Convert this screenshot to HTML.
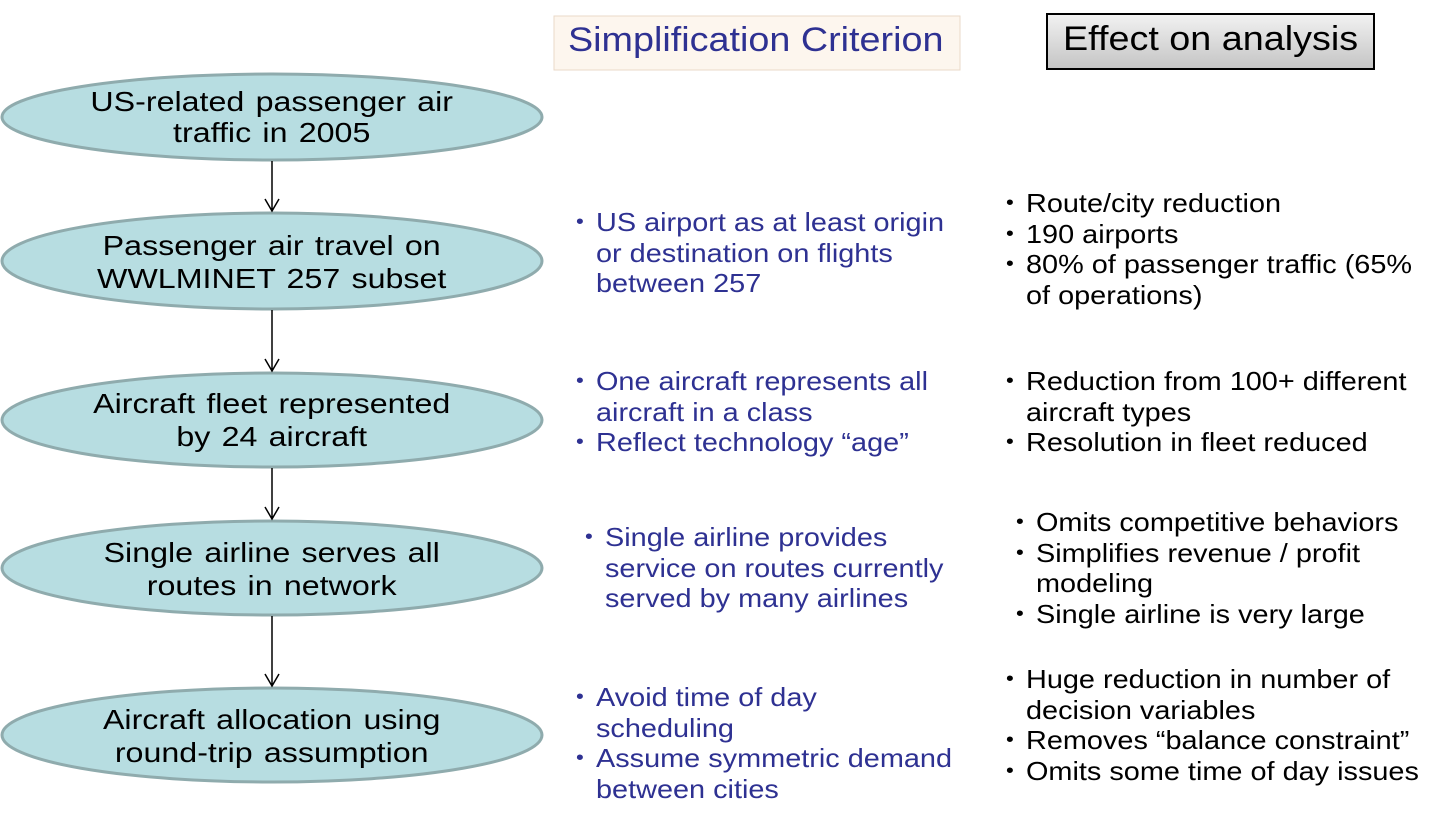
<!DOCTYPE html>
<html><head><meta charset="utf-8"><style>
body{margin:0;width:1450px;height:823px;background:#fff;position:relative;overflow:hidden;font-family:"Liberation Sans",Arial,sans-serif}
.t{position:absolute;font-size:26px;line-height:30.5px;white-space:nowrap;transform:scaleX(1.11);transform-origin:0 0}
.c{transform:scaleX(1.15);transform-origin:272px 0;word-spacing:2px}
.b{color:#2e3192}
.k{color:#000}
.li{position:relative;padding-left:18px}
.li:before{content:"•";position:absolute;left:0;font-size:20px;}
</style></head><body>
<svg width="1450" height="823" style="position:absolute;left:0;top:0">
<defs><linearGradient id="g" x1="0" y1="0" x2="0" y2="1"><stop offset="0" stop-color="#f2f2f2"/><stop offset="1" stop-color="#c4c4c4"/></linearGradient></defs>
<rect x="554" y="16" width="406" height="54" fill="#fdf6ee" stroke="#ead9c8"/>
<rect x="1047" y="14" width="327" height="55" fill="url(#g)" stroke="#000" stroke-width="2"/>
<g fill="#b7dde1" stroke="#8fabad" stroke-width="3">
<ellipse cx="272" cy="117" rx="270" ry="43"/>
<ellipse cx="272" cy="261" rx="270" ry="48"/>
<ellipse cx="272" cy="420" rx="270" ry="47"/>
<ellipse cx="272" cy="568" rx="270" ry="47"/>
<ellipse cx="272" cy="735" rx="270" ry="47"/>
</g>
<g stroke="#000" stroke-width="1.5" fill="none">
<path d="M272,161 V211 M265,199 L272,211 L279,199"/>
<path d="M272,310 V371 M265,359 L272,371 L279,359"/>
<path d="M272,468 V519 M265,507 L272,519 L279,507"/>
<path d="M272,616 V686 M265,674 L272,686 L279,674"/>
</g>
</svg>
<div class="t b" style="left:568px;top:20px;font-size:34px;line-height:40px">Simplification Criterion</div>
<div class="t k" style="left:1063px;top:19px;font-size:34px;line-height:40px">Effect on analysis</div>

<div class="t k c" style="left:2px;width:540px;top:86px;text-align:center;font-size:28px;line-height:31px">US-related passenger air<br>traffic in 2005</div>
<div class="t k c" style="left:2px;width:540px;top:229px;text-align:center;font-size:28px;line-height:33px">Passenger air travel on<br>WWLMINET 257 subset</div>
<div class="t k c" style="left:2px;width:540px;top:387px;text-align:center;font-size:28px;line-height:33px">Aircraft fleet represented<br>by 24 aircraft</div>
<div class="t k c" style="left:2px;width:540px;top:536px;text-align:center;font-size:28px;line-height:33px">Single airline serves all<br>routes in network</div>
<div class="t k c" style="left:2px;width:540px;top:703px;text-align:center;font-size:28px;line-height:33px">Aircraft allocation using<br>round-trip assumption</div>

<div class="t b" style="left:576px;top:207px"><div class="li">US airport as at least origin<br>or destination on flights<br>between 257</div></div>
<div class="t b" style="left:576px;top:366px"><div class="li">One aircraft represents all<br>aircraft in a class</div><div class="li">Reflect technology “age”</div></div>
<div class="t b" style="left:585px;top:522px"><div class="li">Single airline provides<br>service on routes currently<br>served by many airlines</div></div>
<div class="t b" style="left:576px;top:682px"><div class="li">Avoid time of day<br>scheduling</div><div class="li">Assume symmetric demand<br>between cities</div></div>

<div class="t k" style="left:1006px;top:188px"><div class="li">Route/city reduction</div><div class="li">190 airports</div><div class="li">80% of passenger traffic (65%<br>of operations)</div></div>
<div class="t k" style="left:1006px;top:366px"><div class="li">Reduction from 100+ different<br>aircraft types</div><div class="li">Resolution in fleet reduced</div></div>
<div class="t k" style="left:1016px;top:507px"><div class="li">Omits competitive behaviors</div><div class="li">Simplifies revenue / profit<br>modeling</div><div class="li">Single airline is very large</div></div>
<div class="t k" style="left:1006px;top:664px"><div class="li">Huge reduction in number of<br>decision variables</div><div class="li">Removes “balance constraint”</div><div class="li">Omits some time of day issues</div></div>
</body></html>
